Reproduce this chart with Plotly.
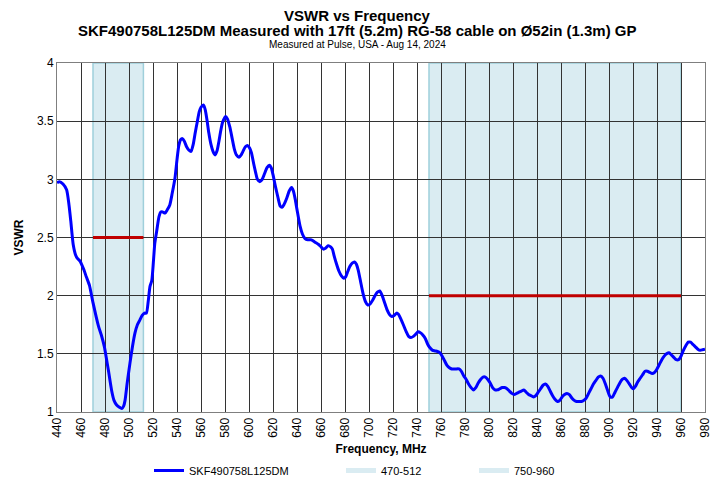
import plotly.graph_objects as go

# ---------------- data ----------------
freq_mhz = [440, 442, 445, 448, 450, 451.5, 453.5, 455.5, 457, 459, 460.5, 462.5, 464.5, 467,
            470, 474.5, 477, 479.5, 481, 482.8, 485.6, 487.5, 489.7, 492, 494, 495.5, 496.7,
            498.5, 500.8, 503, 505, 507, 509, 511, 513, 514.5, 516, 517.5, 519, 521.5, 523,
            525, 526.5, 528, 530, 532, 534, 536, 538.3, 540, 541.5, 543, 544.5, 546, 548,
            550, 551.7, 553.5, 555, 557, 558.5, 560, 562, 563.5, 565, 566.5, 568.3, 570,
            571.7, 573.5, 575, 576.5, 578, 580.5, 582, 584, 586, 587.8, 589.5, 591.7, 593.5,
            595, 597, 599, 600.5, 602, 604, 605.5, 607, 609, 611, 613, 615, 617, 618.5, 620,
            622, 624, 626, 627.5, 629, 631.5, 633.5, 635.5, 637, 638.5, 640, 642.5, 644.5,
            646.7, 649, 652, 655, 658, 660, 662, 664, 666, 668, 669.5, 671, 673, 675, 677,
            679, 680.5, 682, 684, 686, 688, 689.5, 691, 693, 695, 697, 699, 701, 703, 705,
            707, 709, 711, 713, 715, 717, 719, 721, 723, 724.5, 726.5, 728.6, 731, 733, 735,
            737, 739, 741, 743, 745, 747, 749, 751, 753, 755, 757, 759, 761, 763, 765, 767,
            769, 772, 775, 777, 779, 781, 783, 785, 787, 789, 791, 793, 795, 797, 799, 801,
            803, 805, 807, 809, 811, 813, 815, 817, 819, 821, 823, 825, 827, 829, 831, 833,
            835, 837, 839, 841, 843, 845, 847, 849, 851, 853, 855, 857, 859, 861, 863, 865,
            867, 869, 871, 873, 875, 877, 879, 881, 883, 885, 887, 889, 891, 893, 895, 897,
            899, 901, 903, 905, 907, 909, 911, 913, 915, 917, 919, 920.5, 922, 924, 926, 928,
            930, 932, 934, 936, 938, 940, 942, 944, 946, 948, 950, 952, 954, 956, 958, 960,
            962, 964, 966, 968, 970, 972, 974, 976, 978, 980]
vswr = [2.97, 2.98, 2.96, 2.91, 2.78, 2.64, 2.44, 2.35, 2.32, 2.30, 2.27, 2.22, 2.16, 2.09,
        1.94, 1.74, 1.66, 1.56, 1.47, 1.36, 1.18, 1.10, 1.06, 1.04, 1.03, 1.05, 1.10,
        1.25, 1.42, 1.57, 1.68, 1.75, 1.79, 1.83, 1.85, 1.85, 1.95, 2.08, 2.13, 2.45, 2.55,
        2.68, 2.72, 2.72, 2.71, 2.74, 2.78, 2.88, 3.01, 3.17, 3.29, 3.34, 3.35, 3.33, 3.28,
        3.25, 3.24, 3.30, 3.39, 3.50, 3.58, 3.62, 3.64, 3.60, 3.51, 3.40, 3.30, 3.24,
        3.21, 3.25, 3.33, 3.42, 3.49, 3.54, 3.52, 3.45, 3.35, 3.26, 3.21, 3.19, 3.21,
        3.24, 3.28, 3.29, 3.27, 3.23, 3.13, 3.06, 3.00, 2.98, 3.00, 3.05, 3.10, 3.12, 3.10, 3.04,
        2.94, 2.85, 2.77, 2.76, 2.78, 2.84, 2.90, 2.93, 2.90, 2.83, 2.74, 2.60, 2.53,
        2.49, 2.48, 2.48, 2.46, 2.44, 2.42, 2.40, 2.41, 2.43, 2.42, 2.40, 2.34, 2.27, 2.21, 2.17,
        2.15, 2.16, 2.20, 2.25, 2.28, 2.29, 2.27, 2.22, 2.12, 2.02, 1.95, 1.92, 1.93, 1.96, 2.00,
        2.03, 2.04, 2.00, 1.94, 1.88, 1.84, 1.82, 1.83, 1.85, 1.84, 1.80, 1.75, 1.69, 1.65, 1.64,
        1.65, 1.67, 1.69, 1.68, 1.66, 1.63, 1.58, 1.55, 1.53, 1.525, 1.52, 1.51, 1.48, 1.44, 1.40, 1.38,
        1.37, 1.37, 1.37, 1.35, 1.31, 1.28, 1.24, 1.21, 1.19, 1.21, 1.25, 1.28, 1.30, 1.30, 1.28, 1.25,
        1.21, 1.19, 1.19, 1.20, 1.21, 1.21, 1.20, 1.18, 1.16, 1.15, 1.16, 1.17, 1.18, 1.19, 1.17, 1.15,
        1.14, 1.13, 1.14, 1.17, 1.20, 1.23, 1.24, 1.22, 1.18, 1.14, 1.11, 1.09, 1.10, 1.13, 1.15, 1.16,
        1.15, 1.12, 1.10, 1.09, 1.09, 1.09, 1.10, 1.12, 1.16, 1.20, 1.24, 1.27, 1.30, 1.31, 1.29, 1.24,
        1.18, 1.13, 1.13, 1.17, 1.21, 1.25, 1.28, 1.29, 1.27, 1.24, 1.21, 1.20, 1.22, 1.26, 1.29, 1.32,
        1.35, 1.35, 1.34, 1.33, 1.34, 1.37, 1.41, 1.45, 1.48, 1.50, 1.51, 1.49, 1.47, 1.45, 1.45, 1.48,
        1.53, 1.57, 1.60, 1.60, 1.58, 1.56, 1.54, 1.53, 1.535, 1.54]

series_name = "SKF490758L125DM"
band_names = ["470-512", "750-960"]
band_lo = [470, 750]
band_hi = [512, 960]
spec_vswr = [2.5, 2.0]

x_ticks = [440, 460, 480, 500, 520, 540, 560, 580, 600, 620, 640, 660, 680, 700,
           720, 740, 760, 780, 800, 820, 840, 860, 880, 900, 920, 940, 960, 980]
y_ticks = [1, 1.5, 2, 2.5, 3, 3.5, 4]

FONT = "Liberation Sans, Arial, sans-serif"
BAND_FILL = "#DAECF2"
BAND_EDGE = "#9FCFDB"

# page body has an 8px margin; size the figure so it ends at the window edge
OFF = 8
W, H = 712, 473
PL, PR, PT, PB = 57 - OFF, W - (705 - OFF), 63 - OFF, H - (412 - OFF)

fig = go.Figure()

# bands (shapes, below grid)
for lo, hi in zip(band_lo, band_hi):
    fig.add_shape(type="rect", xref="x", yref="y", x0=lo, x1=hi, y0=1, y1=4,
                  fillcolor=BAND_FILL, line=dict(color=BAND_EDGE, width=1.5), layer="below")

# spec lines
for lo, hi, s in zip(band_lo, band_hi, spec_vswr):
    fig.add_trace(go.Scatter(x=[lo, hi], y=[s, s], mode="lines",
                             line=dict(color="#C00000", width=3), showlegend=False,
                             hoverinfo="skip"))

# measured curve
fig.add_trace(go.Scatter(x=freq_mhz, y=vswr, mode="lines", name=series_name,
                         line=dict(color="#0000FF", width=3, shape="spline", smoothing=0.6),
                         legend="legend"))

# legend-only entries for bands
for i, nm in enumerate(band_names):
    fig.add_trace(go.Scatter(x=[None], y=[None], mode="lines", name=nm,
                             line=dict(color=BAND_FILL, width=5),
                             legend="legend2" if i == 0 else "legend3"))

title_lines = [
    ("<b>VSWR vs Frequency</b>", 15, 15),
    ("<b>SKF490758L125DM Measured with 17ft (5.2m) RG-58 cable on Ø52in (1.3m) GP</b>", 15, 30.5),
    ("Measured at Pulse, USA - Aug 14, 2024", 10, 44.5),
]
plot_top, plot_bot = 63, 412
for txt, sz, py in title_lines:
    fig.add_annotation(text=txt, xref="paper", yref="paper",
                       x=(357 - 57) / 648, y=(plot_bot - py) / (plot_bot - plot_top),
                       xanchor="center", yanchor="middle", showarrow=False, borderpad=0,
                       font=dict(family=FONT, size=sz, color="black"))

legend_common = dict(orientation="h", xref="container", yref="container",
                     yanchor="top", xanchor="left", y=(H - (456 - OFF)) / H,
                     font=dict(family=FONT, size=11, color="black"),
                     bgcolor="rgba(0,0,0,0)", itemwidth=30)

fig.update_layout(
    width=W, height=H,
    margin=dict(l=PL, r=PR, t=PT, b=PB, autoexpand=False),
    paper_bgcolor="white", plot_bgcolor="white",
    font=dict(family=FONT, color="black"),
    legend=dict(x=(149 - OFF) / W, **legend_common),
    legend2=dict(x=(341 - OFF) / W, **legend_common),
    legend3=dict(x=(474 - OFF) / W, **legend_common),
    xaxis=dict(range=[440, 980], tickvals=x_ticks, tickangle=-90, automargin=False,
               tickfont=dict(family=FONT, size=12, color="black"),
               showgrid=True, gridcolor="#333333", gridwidth=1,
               showline=True, linecolor="#7F7F7F", linewidth=1, mirror=True,
               zeroline=False, ticks="",
               title=dict(text="<b>Frequency, MHz</b>", font=dict(family=FONT, size=12, color="black"),
                          standoff=11)),
    yaxis=dict(range=[1, 4], tickvals=y_ticks, automargin=False,
               tickfont=dict(family=FONT, size=12, color="black"),
               showgrid=True, gridcolor="#333333", gridwidth=1,
               showline=True, linecolor="#7F7F7F", linewidth=1, mirror=True,
               zeroline=False, ticks="",
               title=dict(text="<b>VSWR</b>", font=dict(family=FONT, size=12, color="black"),
                          standoff=10)),
)

fig.write_html("out.html")
